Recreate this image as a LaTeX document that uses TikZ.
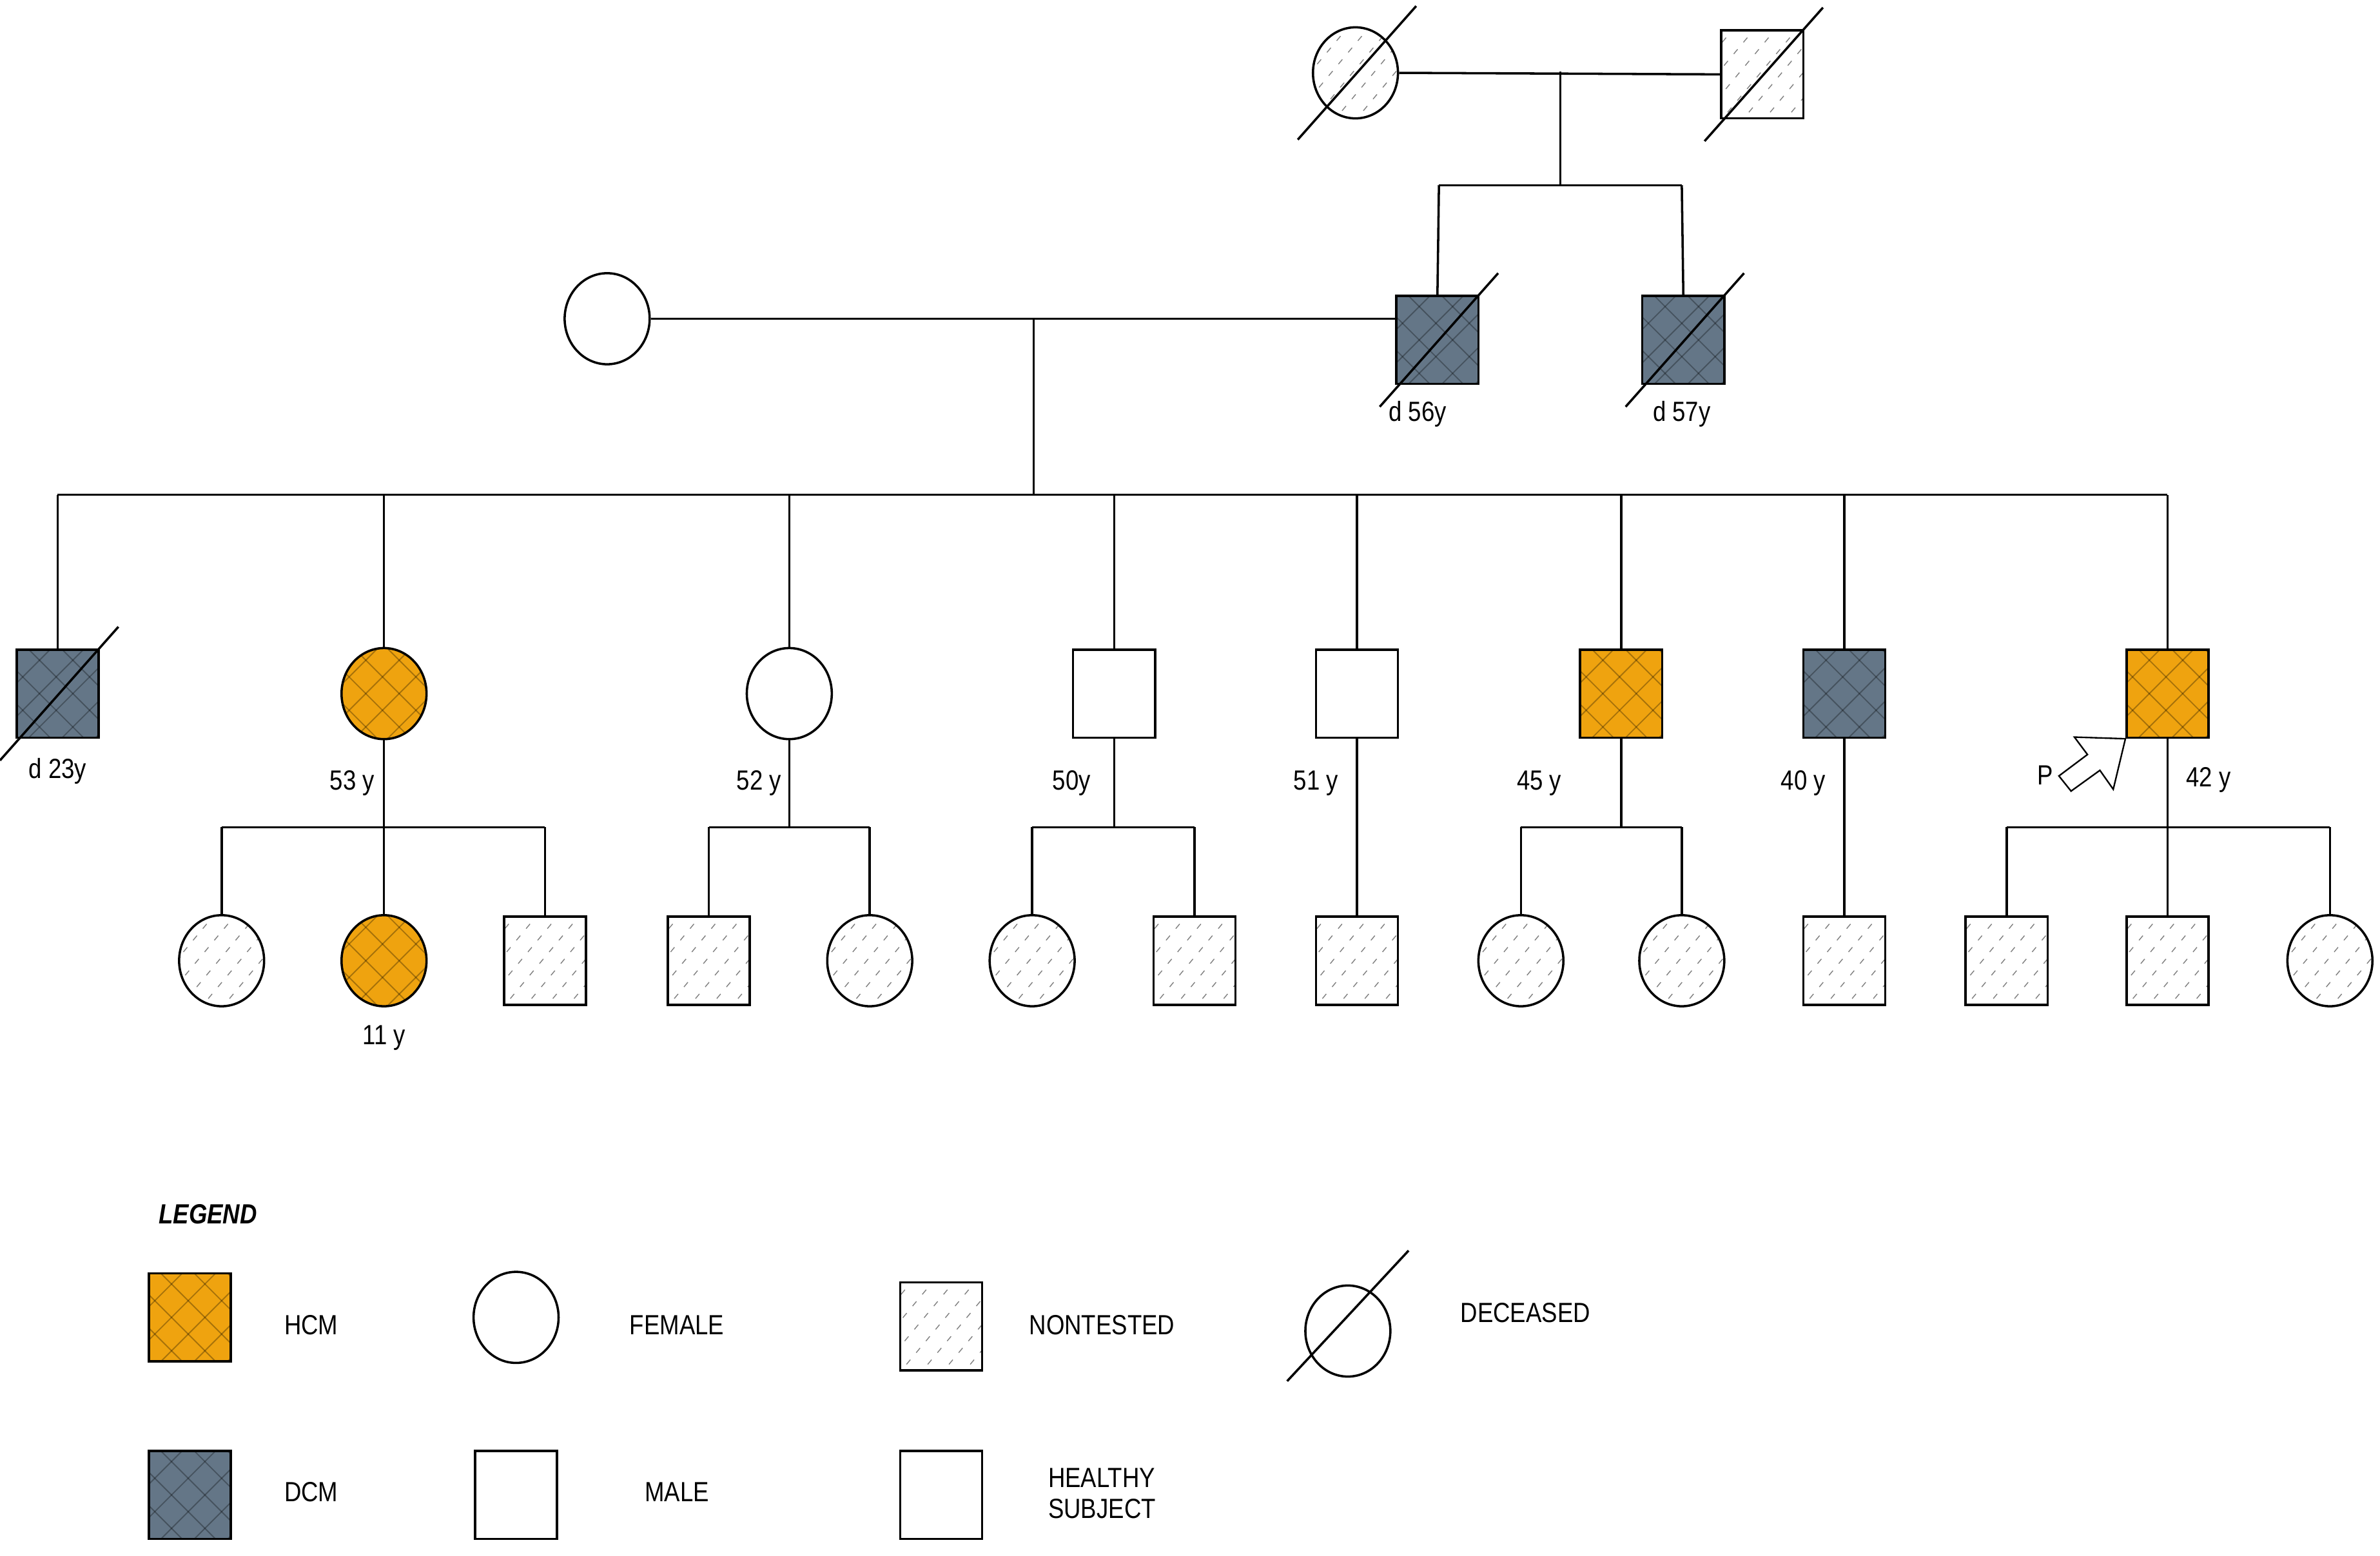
\documentclass[tikz,border=0pt]{standalone}
\usepackage{fontspec}
\setmainfont{Liberation Sans}
\usetikzlibrary{shapes.geometric,calc}
\definecolor{hcm}{HTML}{EFA30F}
\definecolor{dcm}{HTML}{647687}
\tikzset{
  x=1mm,y=-1mm,
  every path/.style={line width=1.5mm},
  fem/.style={ellipse,draw,minimum width=56mm,minimum height=60mm,inner sep=0pt},
  mal/.style={rectangle,draw,minimum width=54mm,minimum height=58mm,inner sep=0pt},
  cross/.style={path picture={
     \foreach \k in {-100,-78,...,100}{
       \draw[black,opacity=.3,line width=.8mm] ($(path picture bounding box.center)+(\k-50,50)$) -- ++(100,-100);
       \draw[black,opacity=.3,line width=.8mm] ($(path picture bounding box.center)+(\k-50,-50)$) -- ++(100,100);}}},
  hcmf/.style={fill=hcm,cross},
  dcmf/.style={fill=dcm,cross},
  nt/.style={path picture={
     \foreach \k in {-100,-86,...,100}{
       \draw[gray,line width=.6mm,dash pattern=on 4mm off 6mm] ($(path picture bounding box.center)+(\k-40,48)$) -- ++(80,-96);}}},
  lab/.style={font=\fontsize{52}{58}\selectfont,inner sep=0pt,xscale=.85},
}
\newcommand\dec[1]{\draw ($(#1)+(-38,44)$) -- ($(#1)+(40,-44)$);}
\begin{document}
\begin{tikzpicture}
\useasboundingbox (0,0) rectangle (1568,1025);
% Generation I
\node[fem,nt] (i1) at (893,48) {};
\node[mal,nt] (i2) at (1161,49) {};
\dec{i1}\dec{i2}
\coordinate (m1) at (1028,47);
\coordinate (s1) at (1028,122);
\draw (i1.east) -- (i2.west);
\draw (m1) -- (s1);
% Generation II
\node[fem] (ii1) at (400,210) {};
\node[mal,dcmf] (ii2) at (947,224) {};
\node[mal,dcmf] (ii3) at (1109,224) {};
\dec{ii2}\dec{ii3}
\draw (948,122) -- (1108,122);
\draw (948,122) -- (ii2.north);
\draw (1108,122) -- (ii3.north);
\node[lab] (l56) at (934,273) {d 56y};
\node[lab] (l57) at (1108,273) {d 57y};
\coordinate (m2) at (681,210);
\draw (ii1.east) -- (ii2.west |- ii1.east);
\coordinate (s2) at (681,326);
\draw (m2) -- (s2);
\draw (38,326) -- (1428,326);
% Generation III
\node[mal,dcmf] (a) at (38,457) {};
\node[fem,hcmf] (b) at (253,457) {};
\node[fem] (c) at (520,457) {};
\node[mal] (d) at (734,457) {};
\node[mal] (e) at (894,457) {};
\node[mal,hcmf] (f) at (1068,457) {};
\node[mal,dcmf] (g) at (1215,457) {};
\node[mal,hcmf] (h) at (1428,457) {};
\dec{a}
\foreach \n in {a,b,c,d,e,f,g,h}{\draw (\n.north) -- (\n.north |- s2);}
\node[lab] (la) at (38,508) {d 23y};
\node[lab] (lb) at (232,516) {53 y};
\node[lab] (lc) at (500,516) {52 y};
\node[lab] (ld) at (706,516) {50y};
\node[lab] (le) at (867,516) {51 y};
\node[lab] (lf) at (1014,516) {45 y};
\node[lab] (lg) at (1188,516) {40 y};
\node[lab] (lh) at (1455,514) {42 y};
\coordinate (tip) at (h.south west);
\node[lab] (lp) at ($(tip)+(-53,24)$) {P};
\draw[fill=white,line width=1mm] (tip) -- ++(-33.6,-1.1) -- ($(tip)+(-25,10.4)$) -- ($(tip)+(-43.8,24.5)$) -- ($(tip)+(-35.8,34.5)$) -- ($(tip)+(-16.8,20.8)$) -- ($(tip)+(-8,33.3)$) -- cycle;
% Generation IV
\node[fem,nt] (b1) at (146,633) {};
\node[fem,hcmf] (b2) at (253,633) {};
\node[mal,nt] (b3) at (359,633) {};
\node[mal,nt] (c1) at (467,633) {};
\node[fem,nt] (c2) at (573,633) {};
\node[fem,nt] (d1) at (680,633) {};
\node[mal,nt] (d2) at (787,633) {};
\node[mal,nt] (e1) at (894,633) {};
\node[fem,nt] (f1) at (1002,633) {};
\node[fem,nt] (f2) at (1108,633) {};
\node[mal,nt] (g1) at (1215,633) {};
\node[mal,nt] (h1) at (1322,633) {};
\node[mal,nt] (h2) at (1428,633) {};
\node[fem,nt] (h3) at (1535,633) {};
\node[lab] (lb2) at (253,684) {11 y};
\foreach \p/\l/\r in {b/b1/b3,c/c1/c2,d/d1/d2,f/f1/f2,h/h1/h3}{
  \draw (\p.south) -- (\p.south |- 0,545);
  \draw (\l.north |- 0,545) -- (\r.north |- 0,545);}
\foreach \k in {b1,b2,b3,c1,c2,d1,d2,f1,f2,h1,h2,h3}{\draw (\k.north) -- (\k.north |- 0,545);}
\draw (e.south) -- (e1.north);
\draw (g.south) -- (g1.north);
% Legend
\node[lab,font=\fontsize{52}{58}\selectfont\bfseries\itshape] (leg) at (137,800) {LEGEND};
\node[mal,hcmf] (k1) at (125,868) {};
\node[lab] (t1) at (205,873) {HCM};
\node[fem] (k2) at (340,868) {};
\node[lab] (t2) at (446,873) {FEMALE};
\node[mal,nt] (k3) at (620,874) {};
\node[lab] (t3) at (726,873) {NONTESTED};
\node[fem] (k4) at (888,877) {};
\draw ($(k4)+(-40,33)$) -- ($(k4)+(40,-53)$);
\node[lab] (t4) at (1005,865) {DECEASED};
\node[mal,dcmf] (k5) at (125,985) {};
\node[lab] (t5) at (205,983) {DCM};
\node[mal] (k6) at (340,985) {};
\node[lab] (t6) at (446,983) {MALE};
\node[mal] (k7) at (620,985) {};
\node[lab,align=left] (t7) at (726,984) {HEALTHY\\SUBJECT};
\end{tikzpicture}
\end{document}
